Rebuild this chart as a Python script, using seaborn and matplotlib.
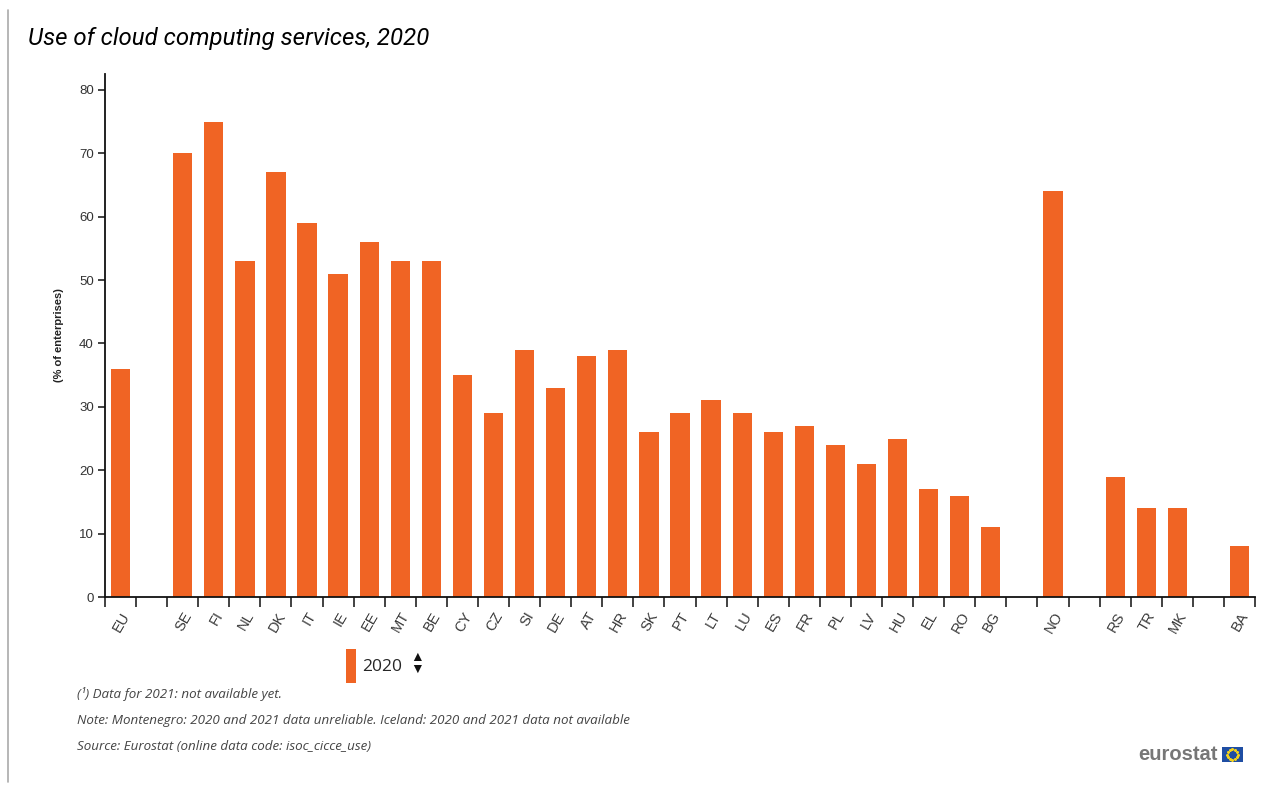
import matplotlib
matplotlib.use("Agg")
import matplotlib.pyplot as plt
import seaborn as sns
import pandas as pd
import numpy as np
from matplotlib.patches import Patch, Rectangle
from matplotlib.lines import Line2D

# ---- data ----
countries = ["EU", "SE", "FI", "NL", "DK", "IT", "IE", "EE", "MT", "BE", "CY", "CZ",
             "SI", "DE", "AT", "HR", "SK", "PT", "LT", "LU", "ES", "FR", "PL", "LV",
             "HU", "EL", "RO", "BG", "NO", "RS", "TR", "MK", "BA"]
values_2020 = [36, 70, 75, 53, 67, 59, 51, 56, 53, 53, 35, 29,
               39, 33, 38, 39, 26, 29, 31, 29, 26, 27, 24, 21,
               25, 17, 16, 11, 64, 19, 14, 14, 8]
# display order with empty separator slots
order = ["EU", "_g1", "SE", "FI", "NL", "DK", "IT", "IE", "EE", "MT", "BE", "CY", "CZ",
         "SI", "DE", "AT", "HR", "SK", "PT", "LT", "LU", "ES", "FR", "PL", "LV",
         "HU", "EL", "RO", "BG", "_g2", "NO", "_g3", "RS", "TR", "MK", "_g4", "BA"]
yticks = [0, 10, 20, 30, 40, 50, 60, 70, 80]
title = "Use of cloud computing services, 2020"
ylabel = "(% of enterprises)"
legend_label = "2020"
notes = ["(¹) Data for 2021: not available yet.",
         "Note: Montenegro: 2020 and 2021 data unreliable. Iceland: 2020 and 2021 data not available",
         "Source: Eurostat (online data code: isoc_cicce_use)"]

BAR = "#F06424"

df = pd.DataFrame({"geo": countries, "value": values_2020})

sns.set_theme(style="white")
plt.rcParams["font.family"] = ["Liberation Sans", "DejaVu Sans"]

fig = plt.figure(figsize=(12.75, 7.85), dpi=100)
ax = fig.add_axes([105/1275, 1-597/785, (1255-105)/1275, (597-74)/785])

sns.barplot(data=df, x="geo", y="value", order=order, color=BAR, width=0.62,
            saturation=1, ax=ax, errorbar=None, linewidth=0)

ax.set_xlim(-0.5, len(order) - 0.5)
ax.set_ylim(0, 82.5)
ax.set_yticks(yticks)
ax.set_yticklabels([str(v) for v in yticks], fontsize=9.5, color="#333333")
ax.set_xticks(range(len(order)))
ax.set_xticklabels(["" if o.startswith("_") else o for o in order],
                   rotation=60, ha="right", rotation_mode="anchor",
                   fontsize=10.5, color="#3a3a3a")
ax.set_xticks(np.arange(-0.5, len(order)), minor=True)
ax.tick_params(axis="x", which="major", length=0, pad=9)
ax.tick_params(axis="x", which="minor", length=7, width=1.2, color="#222222", direction="out", bottom=True)
ax.tick_params(axis="y", which="major", length=5, width=1.2, color="#222222", direction="out", left=True, pad=3)
ax.set_xlabel("")
ax.set_ylabel(ylabel, fontsize=8, fontweight="bold", color="#222222", labelpad=11)

for s in ["top", "right"]:
    ax.spines[s].set_visible(False)
for s in ["left", "bottom"]:
    ax.spines[s].set_color("#111111")
    ax.spines[s].set_linewidth(1.3)

# title
fig.text(28/1275, 1-38/785, title, fontsize=17.3, fontstyle="italic",
         family=["Roboto", "DejaVu Sans"], color="#000000", va="center", ha="left")

# left page border line
fig.add_artist(Line2D([8/1275, 8/1275], [1-10/785, 1-782/785], color="#aaaaaa", lw=1.2))

# legend
handle = Patch(facecolor=BAR, edgecolor="none", label=legend_label)
leg = fig.legend(handles=[handle], loc="center left", bbox_to_anchor=(330/1275, 1-666/785),
                 frameon=False, handlelength=0.6, handleheight=2.6,
                 handletextpad=0.35, prop={"family": "Open Sans", "size": 12.5})
fig.text(417/1275, 1-663/785, "▲\n▼", fontsize=10, ha="center", va="center",
         linespacing=0.75, color="#111111")

# notes
for i, n in enumerate(notes):
    fig.text(77/1275, 1-(694 + i*26.5)/785, n, fontsize=9.6, fontstyle="italic",
             family=["Open Sans", "DejaVu Sans"], color="#444444", va="center", ha="left")

# eurostat logo
fig.text(1218/1275, 1-755/785, "eurostat", fontsize=14.5, fontweight="bold",
         color="#777777", ha="right", va="center", family=["Liberation Sans", "DejaVu Sans"])
fx0, fy0, fw, fh = 1222/1275, 1-762/785, 21/1275, 15/785
fig.add_artist(Rectangle((fx0, fy0), fw, fh, transform=fig.transFigure,
                         facecolor="#1f4ea3", edgecolor="none"))
cx, cy = fx0 + fw/2, fy0 + fh/2
ang = np.linspace(0, 2*np.pi, 12, endpoint=False)
fig.add_artist(Line2D(cx + 0.35*fh*(785/1275)*np.cos(ang), cy + 0.35*fh*np.sin(ang),
                      linestyle="none", marker="*", markersize=1.6, color="#f3d21b",
                      transform=fig.transFigure))

fig.savefig("out.png", dpi=100, facecolor="white")
